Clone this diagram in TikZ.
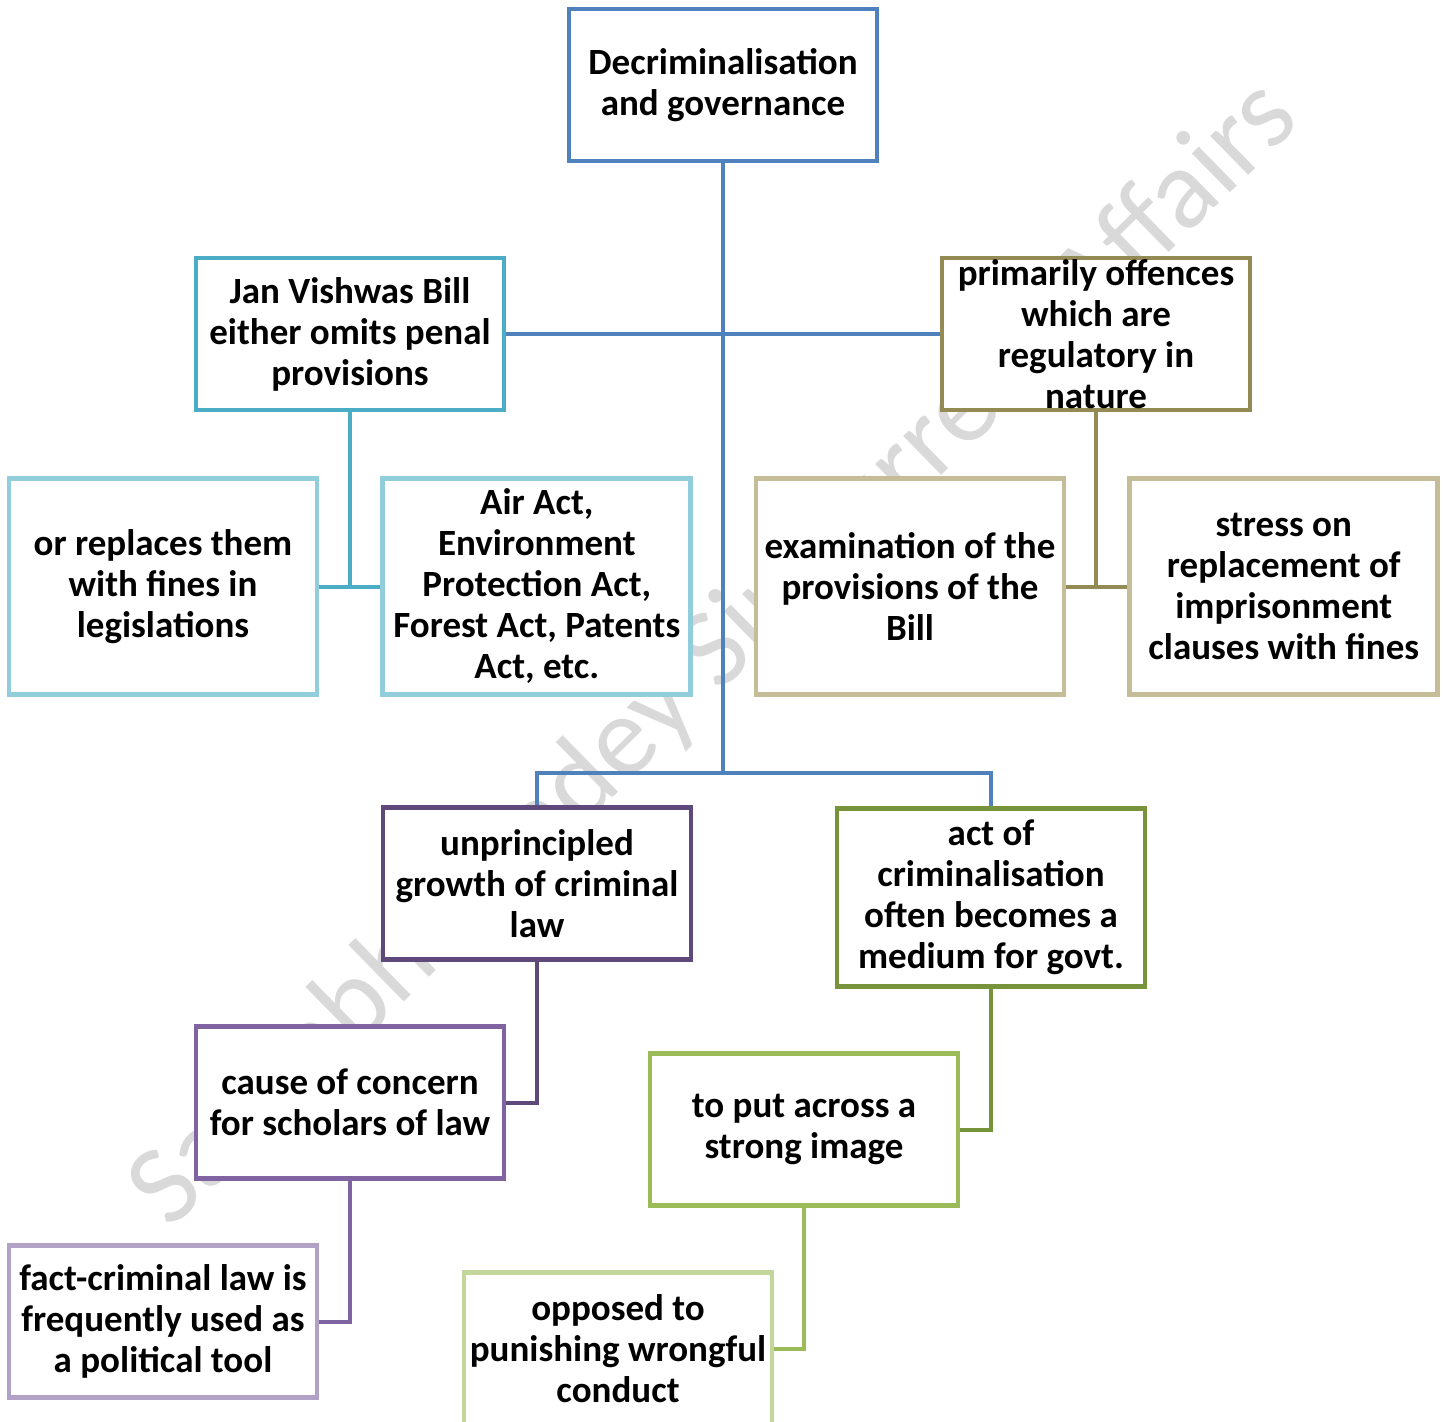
\documentclass[tikz,border=0pt]{standalone}
\usepackage{fontspec}
\setmainfont{Carlito}
\usepackage{tikz}
\usetikzlibrary{positioning}

\definecolor{cBlue}{HTML}{4F81BD}
\definecolor{cTeal}{HTML}{4BACC6}
\definecolor{cTealLt}{HTML}{92CDDC}
\definecolor{cOlive}{HTML}{948A54}
\definecolor{cOliveLt}{HTML}{C4BD97}
\definecolor{cPurpleDk}{HTML}{5F497A}
\definecolor{cPurple}{HTML}{8064A2}
\definecolor{cPurpleLt}{HTML}{B2A1C7}
\definecolor{cGreenDk}{HTML}{77933C}
\definecolor{cGreen}{HTML}{9BBB59}
\definecolor{cGreenLt}{HTML}{C3D69B}
\definecolor{cMark}{HTML}{D9D9D9}

\begin{document}
\begin{tikzpicture}[
    x=0.5pt, y=-0.5pt,
    node distance=30.5pt,
    box/.style={draw, fill=white, line width=2.4pt, align=center, inner sep=1pt, minimum width=154pt, minimum height=76pt, font=\bfseries\fontsize{18.5}{20.5}\selectfont},
    tall/.style={box, minimum height=108pt},
    link/.style={line width=2pt}
  ]
    \useasboundingbox (0,0) rectangle (1444,1422);
    \clip (0,0) rectangle (1444,1422);
    % watermark
    \node[text=cMark, rotate=44.4, font=\fontsize{57}{60}\selectfont] (mark) at (715,655) {Saurabh Pandey Sir Current Affairs};

    \node[box, draw=cBlue] (top) at (723,85) {Decriminalisation\\and governance};
    \node[box, draw=cTeal] (jan) at (350,334) {Jan Vishwas Bill\\either omits penal\\provisions};
    \node[box, draw=cOlive, inner sep=0pt] (prim) at (1096,334) {primarily offences\\which are\\regulatory in\\nature};
    \node[tall, draw=cTealLt] (rep) at (163,586.5) {or replaces them\\with fines in\\legislations};
    \node[tall, draw=cTealLt, right=of rep] (air) {Air Act,\\Environment\\Protection Act,\\Forest Act, Patents\\Act, etc.};
    \node[tall, draw=cOliveLt] (exam) at (910,586.5) {examination of the\\provisions of the\\Bill};
    \node[tall, draw=cOliveLt, right=of exam] (stress) {stress on\\replacement of\\imprisonment\\clauses with fines};
    \node[box, draw=cPurpleDk] (unpr) at (537,883.5) {unprincipled\\growth of criminal\\law};
    \node[box, draw=cGreenDk, minimum height=89pt] (act) at (991,897.5) {act of\\criminalisation\\often becomes a\\medium for govt.};
    \node[box, draw=cPurple] (cause) at (350,1102.5) {cause of concern\\for scholars of law};
    \node[box, draw=cGreen] (put) at (804,1129.5) {to put across a\\strong image};
    \node[box, draw=cPurpleLt] (fact) at (163,1321.5) {fact-criminal law is\\frequently used as\\a political tool};
    \node[box, draw=cGreenLt] (opp) at (618,1348.5) {opposed to\\punishing wrongful\\conduct};

    \coordinate (fork) at (723,773);
    \draw[link, cBlue] (top) -- (fork);
    \draw[link, cBlue] (jan) -- (prim);
    \draw[link, cBlue] (unpr) |- (fork) -| (act);
    \draw[link, cTeal] (jan) -- (jan |- rep);
    \draw[link, cTeal] (rep) -- (air);
    \draw[link, cOlive] (prim) -- (prim |- exam);
    \draw[link, cOlive] (exam) -- (stress);
    \draw[link, cPurpleDk] (unpr) |- (cause);
    \draw[link, cPurple] (cause) |- (fact);
    \draw[link, cGreenDk] (act) |- (put);
    \draw[link, cGreen] (put) |- (opp);
  \end{tikzpicture}
\end{document}
